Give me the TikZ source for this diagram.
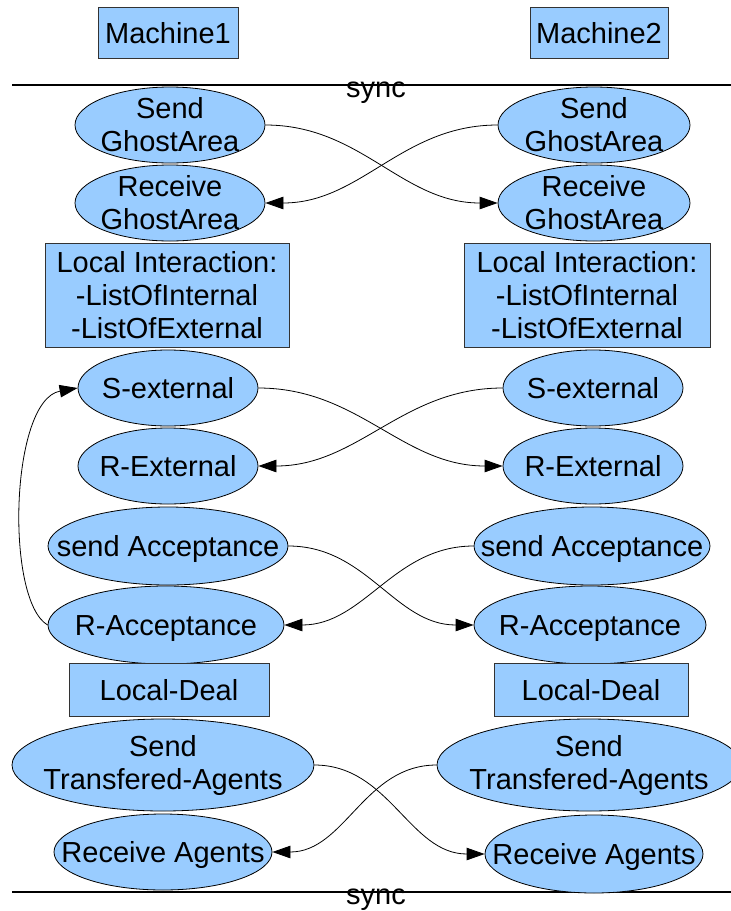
\documentclass[tikz,border=0pt]{standalone}
\usepackage{fontspec}
\setmainfont{Liberation Sans}
\usetikzlibrary{shapes.geometric,arrows.meta}
\definecolor{boxblue}{HTML}{99CCFF}
\newcommand\diafont{\fontsize{29}{33}\selectfont}
\begin{document}
\begin{tikzpicture}[x=1pt,y=-1pt,
  el/.style={ellipse,draw=black,fill=boxblue,line width=0.8pt,inner sep=0pt},
  bx/.style={rectangle,draw=black!80,fill=boxblue,line width=0.8pt,inner sep=0pt,align=center,font=\diafont},
  lbl/.style={align=center,font=\diafont,inner sep=0pt},
  lblone/.style={font=\diafont,inner sep=0pt,text height=21pt,text depth=0pt},
  con/.style={line width=0.8pt,-{Triangle[length=18pt,width=12.5pt]}},
  syncline/.style={line width=2.2pt},
]
\useasboundingbox (0,0) rectangle (731,911);

% sync lines
\coordinate (s1a) at (12,85); \coordinate (s1b) at (731,85);
\coordinate (s2a) at (12,892); \coordinate (s2b) at (731,892);
\draw[syncline] (s1a) -- (s1b);
\draw[syncline] (s2a) -- (s2b);
\node[lbl,anchor=base] (sync1) at (376,97) {sync};
\node[lbl,anchor=base] (sync2) at (376,904) {sync};

% machines
\node[bx,minimum width=140pt,minimum height=51pt,text height=21pt,text depth=0pt] (m1) at (168,33) {Machine1};
\node[bx,minimum width=138pt,minimum height=51pt,text height=21pt,text depth=0pt] (m2) at (599,33) {Machine2};

% left column
\node[el,minimum width=190pt,minimum height=76pt,label={[lbl]center:{Send\\GhostArea}}] (sg1) at (170,125) {};
\node[el,minimum width=190pt,minimum height=76pt,label={[lbl]center:{Receive\\GhostArea}}] (rg1) at (170,203) {};
\node[bx,minimum width=244pt,minimum height=104pt] (li1) at (167,295.5) {Local Interaction:\\-ListOfInternal\\-ListOfExternal};
\node[el,minimum width=180pt,minimum height=76pt,label={[lblone]center:{S-external}}] (se1) at (168,388) {};
\node[el,minimum width=180pt,minimum height=76pt,label={[lblone]center:{R-External}}] (re1) at (168,466) {};
\node[el,minimum width=240pt,minimum height=78pt,label={[lblone]center:{send Acceptance}}] (sa1) at (168,546) {};
\node[el,minimum width=236pt,minimum height=78pt,label={[lblone]center:{R-Acceptance}}] (ra1) at (166,625) {};
\node[bx,minimum width=200pt,minimum height=53pt,text height=21pt,text depth=0pt] (ld1) at (169,689.5) {Local-Deal};
\node[el,minimum width=302pt,minimum height=92pt,label={[lbl]center:{Send\\Transfered-Agents}}] (st1) at (163,765) {};
\node[el,minimum width=218pt,minimum height=76pt,label={[lblone]center:{Receive Agents}}] (rag1) at (163,852) {};

% right column
\node[el,minimum width=192pt,minimum height=76pt,label={[lbl]center:{Send\\GhostArea}}] (sg2) at (594,125) {};
\node[el,minimum width=192pt,minimum height=76pt,label={[lbl]center:{Receive\\GhostArea}}] (rg2) at (594,203) {};
\node[bx,minimum width=246pt,minimum height=104pt] (li2) at (587,295.5) {Local Interaction:\\-ListOfInternal\\-ListOfExternal};
\node[el,minimum width=180pt,minimum height=76pt,label={[lblone]center:{S-external}}] (se2) at (593,388) {};
\node[el,minimum width=180pt,minimum height=76pt,label={[lblone]center:{R-External}}] (re2) at (593,466) {};
\node[el,minimum width=236pt,minimum height=78pt,label={[lblone]center:{send Acceptance}}] (sa2) at (592,546) {};
\node[el,minimum width=232pt,minimum height=78pt,label={[lblone]center:{R-Acceptance}}] (ra2) at (590,625) {};
\node[bx,minimum width=194pt,minimum height=53pt,text height=21pt,text depth=0pt] (ld2) at (591,689.5) {Local-Deal};
\node[el,minimum width=304pt,minimum height=92pt,label={[lbl]center:{Send\\Transfered-Agents}}] (st2) at (589,765) {};
\node[el,minimum width=218pt,minimum height=78pt,label={[lblone]center:{Receive Agents}}] (rag2) at (594,854) {};

% crossing connectors
\draw[con] (sg1.east) to[out=0,in=180] (rg2.west);
\draw[con] (sg2.west) to[out=180,in=0] (rg1.east);
\draw[con] (se1.east) to[out=0,in=180] (re2.west);
\draw[con] (se2.west) to[out=180,in=0] (re1.east);
\draw[con] (sa1.east) to[out=0,in=180] (ra2.west);
\draw[con] (sa2.west) to[out=180,in=0] (ra1.east);
\draw[con] (st1.east) to[out=0,in=180] (rag2.west);
\draw[con] (st2.west) to[out=180,in=0] (rag1.east);

% loop back
\draw[con] (ra1.west) .. controls (5,600) and (10,400) .. (se1.west);
\end{tikzpicture}
\end{document}
